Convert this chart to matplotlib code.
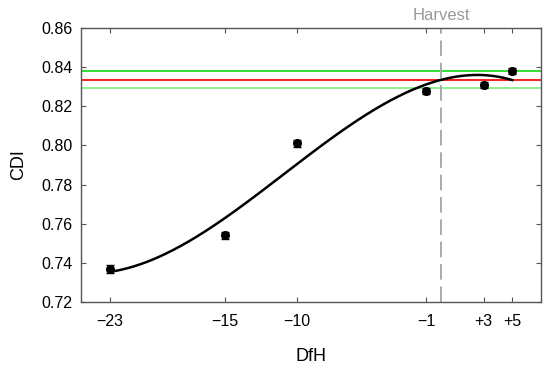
import matplotlib.pyplot as plt
import numpy as np

plt.rcParams['font.family'] = ['Liberation Sans', 'DejaVu Sans']

# Data
dfh = [-23, -15, -10, -1, 3, 5]
cdi = [0.737, 0.754, 0.801, 0.828, 0.831, 0.838]
cdi_err = [0.002, 0.002, 0.002, 0.0015, 0.0015, 0.0015]
tick_pos = [-23, -15, -10, -1, 3, 5]
tick_labels = ['\u221223', '\u221215', '\u221210', '\u22121', '+3', '+5']
ref_mean = 0.8334
ref_upper = 0.8378
ref_lower = 0.8291
harvest_x = 0.05

fig = plt.figure(figsize=(5.5, 3.69), dpi=100)
ax = fig.add_axes([81 / 550, 1 - 302 / 369, 460 / 550, 274 / 369])

# Horizontal reference band
ax.axhline(ref_upper, color='#22dd22', lw=1.3, zorder=1)
ax.axhline(ref_mean, color='#ee1111', lw=1.3, zorder=1)
ax.axhline(ref_lower, color='#88ee88', lw=1.3, zorder=1)

# Harvest marker
ax.axvline(harvest_x, color='#aaaaaa', lw=1.4, ls=(0, (8, 3.5)), zorder=1)
ax.text(harvest_x, 0.8625, 'Harvest', color='#999999', fontsize=12,
        ha='center', va='bottom')

# Cubic fit through the data
coef = np.polyfit(dfh, cdi, 3)
xs = np.linspace(min(dfh), max(dfh), 200)
ax.plot(xs, np.polyval(coef, xs), color='black', lw=1.8, zorder=2)

# Data points with error bars
ax.errorbar(dfh, cdi, yerr=cdi_err, fmt='o', color='black', ms=5.5,
            capsize=3, elinewidth=1, capthick=1, zorder=3)

ax.set_xlim(-25, 7)
ax.set_ylim(0.72, 0.86)
ax.set_xticks(tick_pos)
ax.set_xticklabels(tick_labels)
ax.set_yticks(np.arange(0.72, 0.861, 0.02))
ax.set_yticklabels([f'{v:.2f}' for v in np.arange(0.72, 0.861, 0.02)])
ax.tick_params(direction='in', top=True, right=True, labelsize=11.5,
               color='#555555', length=3.5)
ax.tick_params(axis='x', pad=9)
ax.tick_params(axis='y', pad=6)
for s in ax.spines.values():
    s.set_color('#555555')
    s.set_linewidth(1)

ax.set_xlabel('DfH', fontsize=13, labelpad=13)
ax.set_ylabel('CDI', fontsize=13, labelpad=10)

fig.savefig('out.png', dpi=100)
